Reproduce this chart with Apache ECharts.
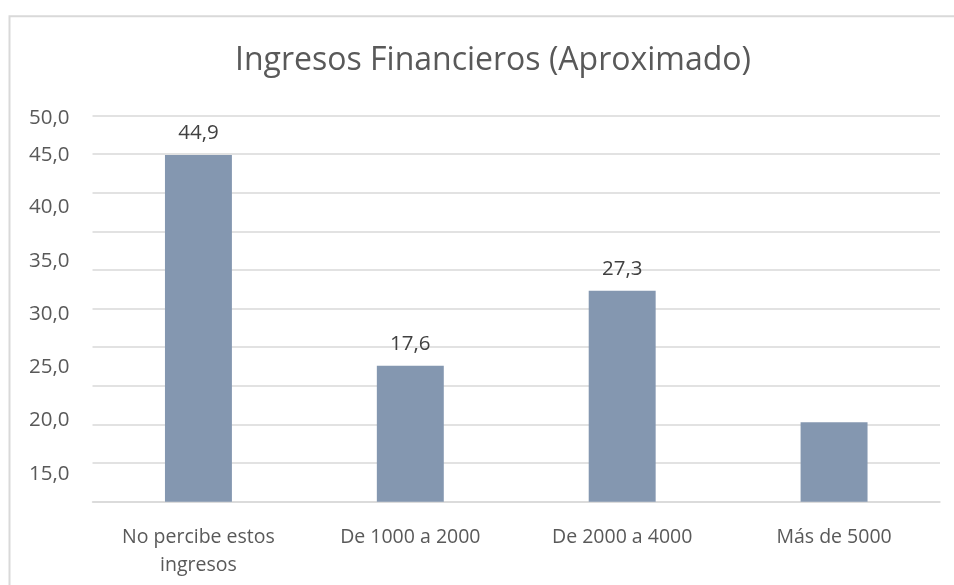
<!DOCTYPE html>
<html>
<head>
<meta charset="utf-8">
<script src="https://cdn.jsdelivr.net/npm/echarts@6/dist/echarts.min.js"></script>
<style>
html,body{margin:0;padding:0;background:#fff;}
#chart{width:954px;height:585px;}
</style>
</head>
<body>
<div id="chart"></div>
<script>
const titleText = 'Ingresos Financieros (Aproximado)';
const categories = ['No percibe estos\ningresos', 'De 1000 a 2000', 'De 2000 a 4000', 'Más de 5000'];
const values = [44.9, 17.6, 27.3, 10.3];
const showValueLabel = [true, true, true, false];
const yTickLabels = ['50,0', '45,0', '40,0', '35,0', '30,0', '25,0', '20,0', '15,0'];
const yTickPositions = [49.7, 44.9, 38.1, 31.1, 24.3, 17.4, 10.5, 3.6];

const FONT = 'Open Sans';
const chart = echarts.init(document.getElementById('chart'), null, {renderer: 'canvas'});
chart.setOption({
  backgroundColor: '#ffffff',
  animation: false,
  title: {
    text: titleText,
    left: 488,
    top: 40,
    textAlign: 'center',
    textStyle: {fontFamily: FONT, fontSize: 32, fontWeight: 'normal', color: '#595959'}
  },
  graphic: [{
    type: 'rect',
    shape: {x: 9.5, y: 16.3, width: 980, height: 620},
    style: {fill: 'none', stroke: '#d9d9d9', lineWidth: 2},
    silent: true
  }],
  grid: {left: 92.5, right: 14, top: 115.5, bottom: 83.3, containLabel: false},
  xAxis: {
    type: 'category',
    data: categories,
    axisLine: {show: true, lineStyle: {color: '#d9d9d9', width: 1.5}},
    axisTick: {show: false},
    axisLabel: {fontFamily: FONT, fontSize: 19.5, color: '#595959', margin: 22, lineHeight: 28, interval: 0}
  },
  yAxis: [{
    type: 'value',
    min: 0,
    max: 50,
    interval: 5,
    axisLine: {show: false},
    axisTick: {show: false},
    splitLine: {show: true, lineStyle: {color: '#d9d9d9', width: 1.5}},
    axisLabel: {show: false}
  }, {
    type: 'value',
    position: 'left',
    min: 0,
    max: 50,
    axisLine: {show: false},
    axisTick: {show: false},
    splitLine: {show: false},
    axisLabel: {
      fontFamily: FONT, fontSize: 20.5, color: '#595959', margin: 23,
      customValues: yTickPositions,
      formatter: function (v) {
        let best = 0, d = Infinity;
        yTickPositions.forEach(function (p, i) { if (Math.abs(p - v) < d) { d = Math.abs(p - v); best = i; } });
        return yTickLabels[best];
      }
    }
  }],
  series: [{
    type: 'bar',
    yAxisIndex: 0,
    barWidth: '31.6%',
    itemStyle: {color: '#8497b0'},
    data: values.map(function (v, i) {
      return {value: v, label: {show: showValueLabel[i]}};
    }),
    label: {
      position: 'top',
      distance: 11,
      fontFamily: FONT, fontSize: 20.5, color: '#404040',
      formatter: function (p) { return p.value.toFixed(1).replace('.', ','); }
    }
  }]
});
</script>
</body>
</html>
